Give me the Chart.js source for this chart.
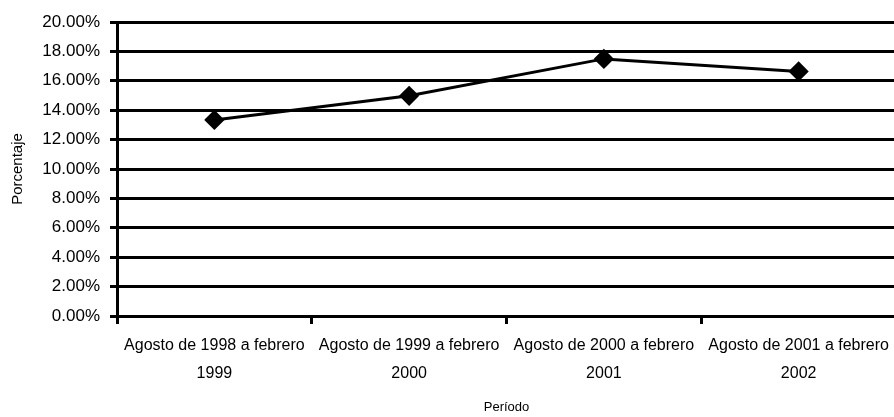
<!DOCTYPE html>
<html lang="es">
<head>
    <meta charset="UTF-8">
    <title>Porcentaje por período</title>
    <script src="https://cdn.jsdelivr.net/npm/chart.js"></script>
    <style>
        html, body { margin: 0; padding: 0; background: #fff; overflow: hidden; }
        #wrap { width: 907px; height: 417px; }
    </style>
</head>
<body>
<div id="wrap"><canvas id="myChart"></canvas></div>

<script>
    // datos
    const periodos = [
        ['Agosto de 1998 a febrero', '1999'],
        ['Agosto de 1999 a febrero', '2000'],
        ['Agosto de 2000 a febrero', '2001'],
        ['Agosto de 2001 a febrero', '2002']
    ];
    const porcentajes = [13.34, 14.98, 17.49, 16.64];
    const yMin = 0, yMax = 20, yPaso = 2;

    const fuente = "'Liberation Sans', Arial, sans-serif";
    const ctx = document.getElementById('myChart').getContext('2d');

    new Chart(ctx, {
        type: 'line',
        data: {
            labels: periodos,
            datasets: [{
                label: 'Porcentaje',
                data: porcentajes,
                borderColor: '#000',
                backgroundColor: '#000',
                borderWidth: 3,
                tension: 0,
                pointStyle: 'rectRot',
                pointRadius: 8,
                pointBackgroundColor: '#000',
                pointBorderColor: '#000'
            }]
        },
        options: {
            responsive: true,
            maintainAspectRatio: false,
            animation: false,
            layout: { padding: { top: 22, right: 3, bottom: 0, left: 0 } },
            plugins: {
                legend: { display: false },
                tooltip: { enabled: false }
            },
            scales: {
                x: {
                    offset: true,
                    grid: {
                        offset: true,
                        drawOnChartArea: false,
                        drawTicks: true,
                        tickLength: 8,
                        color: '#000',
                        lineWidth: 3
                    },
                    border: { color: '#000', width: 3 },
                    ticks: {
                        color: '#000',
                        font: { family: fuente, size: 16, lineHeight: 1.75 },
                        padding: 8,
                        maxRotation: 0,
                        autoSkip: false
                    },
                    title: {
                        display: true,
                        text: 'Período',
                        color: '#000',
                        font: { family: fuente, size: 13 },
                        padding: { top: 0, bottom: 2 }
                    },
                    afterFit: function (scale) { scale.height = 101; }
                },
                y: {
                    min: yMin,
                    max: yMax,
                    grid: {
                        color: '#000',
                        lineWidth: 3,
                        tickLength: 7
                    },
                    border: { color: '#000', width: 3 },
                    ticks: {
                        stepSize: yPaso,
                        color: '#000',
                        font: { family: fuente, size: 17 },
                        padding: 10,
                        callback: v => v.toFixed(2) + '%'
                    },
                    title: {
                        display: true,
                        text: 'Porcentaje',
                        color: '#000',
                        font: { family: fuente, size: 15 },
                        padding: { top: 9, bottom: 0 }
                    },
                    afterFit: function (scale) { scale.width = 117; }
                }
            }
        }
    });
</script>
</body>
</html>
